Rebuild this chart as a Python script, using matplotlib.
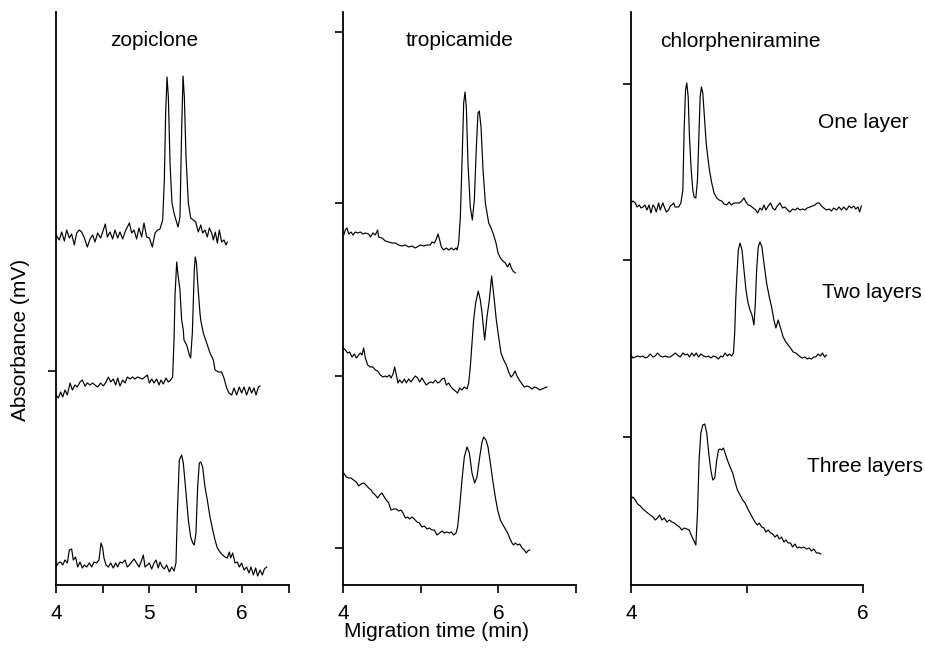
import matplotlib
matplotlib.use("Agg")
import matplotlib.pyplot as plt

plt.rcParams['font.family'] = ['Liberation Sans', 'DejaVu Sans']

# ---------------- data (migration time in min, absorbance in arbitrary mV units) ----------------
drugs = ["zopiclone", "tropicamide", "chlorpheniramine"]
layer_labels = ["One layer", "Two layers", "Three layers"]

# zopiclone
zop_one_t = [4.000, 4.036, 4.061, 4.090, 4.115, 4.143, 4.168, 4.197, 4.222, 4.251, 4.276, 4.305, 4.337, 4.366,
             4.394, 4.419, 4.448, 4.480, 4.509, 4.530, 4.552, 4.581, 4.609, 4.634, 4.663, 4.688, 4.717, 4.742,
             4.767, 4.789, 4.814, 4.839, 4.867, 4.892, 4.921, 4.946, 4.975, 5.004, 5.036, 5.065, 5.093, 5.118,
             5.147, 5.165, 5.179, 5.194, 5.208, 5.226, 5.247, 5.269, 5.290, 5.312, 5.333, 5.351, 5.366, 5.380,
             5.398, 5.423, 5.448, 5.477, 5.502, 5.530, 5.556, 5.577, 5.602, 5.627, 5.649, 5.674, 5.692, 5.713,
             5.735, 5.756, 5.781, 5.806, 5.828, 5.842]
zop_one_a = [350, 345, 353, 344, 355, 347, 351, 340, 352, 355, 353, 347, 338, 346,
             350, 343, 352, 347, 355, 361, 348, 353, 346, 355, 347, 353, 346, 353,
             358, 362, 352, 355, 346, 357, 348, 362, 348, 347, 338, 352, 355, 356,
             365, 405, 472, 508, 488, 422, 382, 372, 365, 358, 368, 455, 509, 488,
             428, 382, 367, 365, 363, 353, 360, 352, 355, 348, 357, 352, 345, 353,
             342, 355, 343, 345, 340, 343]

zop_two_t = [4.000, 4.025, 4.050, 4.072, 4.097, 4.122, 4.151, 4.176, 4.204, 4.229, 4.258, 4.283, 4.312, 4.337,
             4.366, 4.394, 4.419, 4.448, 4.480, 4.509, 4.538, 4.563, 4.588, 4.616, 4.642, 4.663, 4.688, 4.717,
             4.742, 4.767, 4.796, 4.824, 4.849, 4.875, 4.903, 4.928, 4.957, 4.982, 5.004, 5.029, 5.054, 5.082,
             5.108, 5.129, 5.154, 5.183, 5.208, 5.233, 5.254, 5.269, 5.280, 5.298, 5.312, 5.333, 5.351, 5.369,
             5.376, 5.405, 5.434, 5.448, 5.466, 5.477, 5.487, 5.497, 5.510, 5.525, 5.548, 5.556, 5.584, 5.620,
             5.656, 5.692, 5.710, 5.746, 5.781, 5.806, 5.835, 5.860, 5.889, 5.914, 5.943, 5.971, 5.996, 6.022,
             6.050, 6.079, 6.104, 6.129, 6.151, 6.176, 6.194]
zop_two_a = [190, 187, 193, 188, 195, 190, 202, 195, 200, 198, 203, 205, 199, 202,
             200, 202, 200, 198, 202, 199, 203, 208, 203, 206, 200, 207, 199, 205,
             202, 208, 206, 208, 206, 208, 207, 206, 208, 210, 202, 206, 202, 206,
             200, 205, 201, 207, 203, 205, 208, 245, 290, 323, 310, 295, 265, 255,
             245, 240, 230, 227, 252, 285, 315, 328, 322, 300, 272, 265, 252, 242,
             232, 225, 215, 213, 213, 207, 197, 192, 190, 197, 190, 198, 192, 198,
             190, 198, 192, 197, 190, 198, 199]

zop_three_t = [4.000, 4.025, 4.050, 4.072, 4.097, 4.122, 4.143, 4.168, 4.186, 4.211, 4.233, 4.258, 4.283, 4.305,
               4.330, 4.358, 4.384, 4.409, 4.437, 4.462, 4.484, 4.502, 4.516, 4.538, 4.563, 4.588, 4.616, 4.642,
               4.663, 4.688, 4.713, 4.742, 4.767, 4.789, 4.814, 4.839, 4.867, 4.892, 4.914, 4.939, 4.957, 4.982,
               5.004, 5.029, 5.054, 5.075, 5.100, 5.118, 5.143, 5.165, 5.190, 5.219, 5.244, 5.269, 5.290, 5.305,
               5.326, 5.351, 5.369, 5.398, 5.423, 5.448, 5.470, 5.487, 5.505, 5.523, 5.541, 5.556, 5.577, 5.602,
               5.627, 5.656, 5.685, 5.710, 5.735, 5.763, 5.792, 5.817, 5.842, 5.864, 5.878, 5.900, 5.925, 5.950,
               5.971, 5.996, 6.022, 6.050, 6.075, 6.097, 6.122, 6.147, 6.168, 6.194, 6.219, 6.240, 6.265]
zop_three_a = [18, 22, 23, 20, 25, 22, 35, 36, 25, 28, 18, 23, 17, 20,
               18, 22, 18, 23, 22, 25, 42, 37, 27, 20, 18, 22, 17, 22,
               18, 23, 22, 25, 18, 20, 23, 26, 22, 18, 23, 30, 18, 20,
               22, 16, 22, 25, 17, 23, 18, 16, 20, 13, 18, 14, 22, 72,
               125, 130, 122, 92, 65, 48, 42, 40, 52, 98, 122, 123, 118, 98,
               85, 68, 55, 45, 37, 33, 30, 28, 27, 33, 27, 32, 22, 23,
               18, 22, 15, 18, 12, 18, 10, 17, 9, 15, 10, 16, 18]

# tropicamide
tro_one_t = [4.009, 4.030, 4.052, 4.073, 4.103, 4.129, 4.159, 4.189, 4.223, 4.258, 4.288, 4.330, 4.352, 4.386,
             4.416, 4.446, 4.459, 4.502, 4.545, 4.588, 4.631, 4.674, 4.717, 4.760, 4.803, 4.845, 4.888, 4.931,
             4.953, 4.996, 5.039, 5.082, 5.124, 5.146, 5.176, 5.202, 5.223, 5.245, 5.266, 5.296, 5.330, 5.361,
             5.395, 5.425, 5.455, 5.468, 5.489, 5.511, 5.532, 5.554, 5.571, 5.588, 5.609, 5.639, 5.665, 5.691,
             5.717, 5.738, 5.755, 5.777, 5.803, 5.833, 5.876, 5.906, 5.940, 5.970, 5.996, 6.026, 6.060, 6.090,
             6.120, 6.146, 6.167, 6.189, 6.219]
tro_one_a = [350, 355, 357, 351, 353, 350, 353, 352, 353, 351, 352, 351, 348, 352,
             350, 355, 348, 347, 344, 343, 342, 342, 340, 339, 340, 338, 339, 337,
             338, 340, 339, 340, 340, 343, 342, 346, 351, 345, 338, 335, 337, 335,
             337, 335, 337, 335, 342, 368, 422, 482, 493, 478, 422, 378, 365, 385,
             438, 472, 474, 458, 415, 382, 362, 357, 350, 342, 332, 327, 324, 322,
             318, 322, 317, 314, 312]

tro_two_t = [4.000, 4.030, 4.060, 4.086, 4.116, 4.146, 4.172, 4.202, 4.223, 4.245, 4.266, 4.288, 4.318, 4.352,
             4.386, 4.416, 4.446, 4.481, 4.515, 4.545, 4.567, 4.597, 4.618, 4.644, 4.665, 4.687, 4.708, 4.730,
             4.760, 4.790, 4.815, 4.845, 4.876, 4.901, 4.931, 4.961, 4.987, 5.017, 5.047, 5.073, 5.103, 5.133,
             5.159, 5.189, 5.219, 5.245, 5.275, 5.305, 5.330, 5.361, 5.391, 5.416, 5.446, 5.476, 5.502, 5.532,
             5.562, 5.597, 5.618, 5.639, 5.661, 5.682, 5.708, 5.741, 5.768, 5.790, 5.824, 5.854, 5.884, 5.914,
             5.948, 5.974, 6.004, 6.034, 6.069, 6.103, 6.133, 6.163, 6.189, 6.215, 6.240, 6.270, 6.305, 6.335,
             6.369, 6.403, 6.433, 6.464, 6.498, 6.532, 6.562, 6.592, 6.627]
tro_two_a = [237, 235, 232, 233, 228, 231, 227, 230, 232, 230, 237, 227, 220, 218,
             218, 215, 214, 210, 208, 209, 208, 210, 207, 211, 218, 210, 202, 205,
             202, 206, 202, 206, 203, 206, 209, 207, 203, 207, 203, 200, 202, 203,
             202, 205, 202, 203, 206, 207, 200, 202, 198, 196, 194, 192, 197, 195,
             198, 196, 202, 218, 242, 265, 282, 294, 285, 272, 245, 268, 285, 309,
             285, 265, 248, 232, 225, 220, 213, 208, 210, 214, 209, 205, 201, 198,
             199, 198, 196, 198, 197, 195, 196, 197, 198]

tro_three_t = [4.009, 4.043, 4.073, 4.103, 4.137, 4.172, 4.202, 4.232, 4.266, 4.296, 4.330, 4.361, 4.386, 4.416,
               4.446, 4.472, 4.502, 4.532, 4.558, 4.588, 4.618, 4.652, 4.687, 4.717, 4.747, 4.773, 4.803, 4.833,
               4.858, 4.888, 4.918, 4.953, 4.983, 5.017, 5.047, 5.082, 5.112, 5.146, 5.176, 5.210, 5.245, 5.275,
               5.305, 5.339, 5.369, 5.395, 5.425, 5.455, 5.476, 5.502, 5.532, 5.562, 5.597, 5.627, 5.661, 5.695,
               5.725, 5.760, 5.790, 5.811, 5.841, 5.867, 5.897, 5.931, 5.961, 5.991, 6.026, 6.060, 6.090, 6.120,
               6.146, 6.176, 6.197, 6.219, 6.249, 6.275, 6.305, 6.335, 6.361, 6.378, 6.403]
tro_three_a = [112, 108, 107, 107, 105, 103, 99, 101, 102, 100, 97, 95, 92, 90,
               87, 90, 92, 88, 85, 82, 75, 76, 76, 74, 75, 72, 67, 68,
               66, 68, 66, 63, 62, 58, 59, 56, 57, 55, 55, 50, 52, 54,
               52, 53, 52, 53, 50, 52, 58, 78, 105, 128, 138, 132, 112, 102,
               108, 128, 143, 148, 145, 138, 122, 103, 88, 75, 65, 60, 56, 52,
               47, 42, 40, 42, 40, 41, 37, 35, 32, 34, 35]

# chlorpheniramine
chl_one_t = [4.000, 4.017, 4.037, 4.052, 4.072, 4.086, 4.103, 4.120, 4.138, 4.155, 4.172, 4.189, 4.203, 4.218,
             4.238, 4.252, 4.275, 4.287, 4.304, 4.324, 4.338, 4.352, 4.367, 4.381, 4.395, 4.410, 4.430, 4.447,
             4.458, 4.470, 4.481, 4.493, 4.504, 4.519, 4.533, 4.544, 4.559, 4.573, 4.585, 4.596, 4.607, 4.619,
             4.633, 4.648, 4.662, 4.676, 4.696, 4.716, 4.739, 4.759, 4.782, 4.802, 4.825, 4.845, 4.865, 4.888,
             4.911, 4.934, 4.954, 4.974, 4.991, 5.011, 5.032, 5.054, 5.075, 5.092, 5.112, 5.129, 5.146, 5.163,
             5.183, 5.203, 5.221, 5.241, 5.261, 5.284, 5.307, 5.327, 5.350, 5.370, 5.393, 5.415, 5.436, 5.456,
             5.479, 5.499, 5.519, 5.542, 5.564, 5.585, 5.605, 5.622, 5.642, 5.662, 5.685, 5.708, 5.728, 5.748,
             5.771, 5.794, 5.814, 5.834, 5.857, 5.880, 5.900, 5.920, 5.937, 5.957, 5.971, 5.986]
chl_one_a = [382, 384, 382, 378, 380, 377, 378, 380, 375, 380, 372, 380, 378, 373,
             382, 375, 382, 378, 373, 375, 379, 380, 382, 378, 378, 378, 382, 395,
             455, 495, 502, 488, 448, 415, 395, 388, 387, 405, 448, 488, 498, 492,
             468, 442, 428, 415, 402, 392, 387, 385, 384, 381, 380, 383, 380, 382,
             382, 382, 384, 387, 383, 380, 379, 377, 375, 372, 377, 375, 380, 375,
             379, 382, 377, 375, 379, 382, 377, 378, 375, 373, 376, 375, 377, 375,
             376, 375, 377, 378, 379, 380, 382, 382, 379, 377, 375, 376, 374, 377,
             375, 378, 375, 378, 375, 379, 377, 379, 376, 378, 373, 379]

chl_two_t = [4.000, 4.017, 4.037, 4.057, 4.080, 4.103, 4.123, 4.143, 4.166, 4.189, 4.209, 4.229, 4.252, 4.275,
             4.295, 4.315, 4.338, 4.361, 4.381, 4.401, 4.424, 4.447, 4.467, 4.487, 4.504, 4.524, 4.544, 4.562,
             4.582, 4.602, 4.625, 4.648, 4.668, 4.688, 4.711, 4.734, 4.754, 4.774, 4.791, 4.811, 4.831, 4.848,
             4.868, 4.883, 4.894, 4.903, 4.911, 4.925, 4.940, 4.957, 4.974, 4.991, 5.009, 5.026, 5.043, 5.060,
             5.072, 5.083, 5.097, 5.112, 5.129, 5.146, 5.169, 5.192, 5.212, 5.232, 5.249, 5.269, 5.289, 5.312,
             5.335, 5.355, 5.375, 5.398, 5.421, 5.441, 5.461, 5.479, 5.499, 5.519, 5.536, 5.556, 5.576, 5.593,
             5.613, 5.633, 5.650, 5.670, 5.685]
chl_two_a = [230, 227, 228, 229, 228, 229, 227, 228, 231, 228, 229, 232, 229, 228,
             229, 228, 228, 230, 232, 230, 228, 232, 230, 231, 228, 232, 229, 232,
             228, 231, 229, 228, 229, 227, 229, 228, 226, 229, 228, 232, 229, 231,
             229, 232, 252, 285, 305, 335, 342, 335, 315, 295, 282, 275, 270, 260,
             282, 315, 338, 343, 338, 322, 302, 288, 278, 265, 257, 265, 257, 248,
             243, 240, 237, 233, 232, 230, 228, 227, 228, 226, 227, 226, 228, 228,
             231, 229, 232, 228, 230]

chl_three_t = [4.000, 4.017, 4.037, 4.057, 4.080, 4.103, 4.123, 4.143, 4.166, 4.189, 4.209, 4.229, 4.246, 4.266,
               4.287, 4.309, 4.332, 4.352, 4.372, 4.395, 4.418, 4.438, 4.458, 4.481, 4.501, 4.519, 4.539, 4.559,
               4.573, 4.587, 4.602, 4.619, 4.636, 4.653, 4.670, 4.688, 4.705, 4.722, 4.739, 4.754, 4.768, 4.782,
               4.797, 4.811, 4.831, 4.854, 4.877, 4.897, 4.917, 4.940, 4.963, 4.983, 5.003, 5.026, 5.049, 5.069,
               5.089, 5.106, 5.126, 5.146, 5.163, 5.183, 5.203, 5.221, 5.241, 5.261, 5.278, 5.298, 5.318, 5.335,
               5.355, 5.375, 5.393, 5.413, 5.433, 5.450, 5.470, 5.490, 5.513, 5.536, 5.556, 5.576, 5.599, 5.622,
               5.636]
chl_three_a = [86, 88, 85, 81, 79, 76, 74, 72, 70, 68, 65, 67, 70, 65,
               67, 63, 65, 63, 62, 60, 58, 55, 57, 56, 55, 50, 45, 40,
               72, 125, 152, 160, 161, 152, 132, 115, 105, 107, 125, 135, 136, 135,
               137, 132, 125, 118, 112, 103, 95, 90, 85, 82, 77, 72, 67, 63,
               60, 62, 58, 57, 53, 55, 52, 51, 48, 50, 46, 48, 43, 45,
               42, 42, 38, 41, 37, 38, 37, 38, 36, 37, 34, 36, 32, 32,
               31]

traces = [
    [(zop_one_t, zop_one_a), (zop_two_t, zop_two_a), (zop_three_t, zop_three_a)],
    [(tro_one_t, tro_one_a), (tro_two_t, tro_two_a), (tro_three_t, tro_three_a)],
    [(chl_one_t, chl_one_a), (chl_two_t, chl_two_a), (chl_three_t, chl_three_a)],
]

x_limits = [(4, 6.5), (4, 7), (4, 6)]
x_ticks = [[4, 4.5, 5, 5.5, 6, 6.5], [4, 5, 6, 7], [4, 5, 6]]
x_ticklabels = [["4", "", "5", "", "6", ""], ["4", "", "6", ""], ["4", "", "6"]]
y_ticks = [[214], [553, 382, 209, 37], [501, 325, 148]]
y_limit = (0, 573)

# ---------------- figure ----------------
FS = 15
fig = plt.figure(figsize=(9.25, 6.54), dpi=100)
W, H = 925.0, 654.0
lefts = [56, 343, 631]
rights = [288.5, 576, 863]
top_px, bot_px = 12, 585

axes = []
for i in range(3):
    ax = fig.add_axes([lefts[i] / W, 1 - bot_px / H, (rights[i] - lefts[i]) / W, (bot_px - top_px) / H])
    axes.append(ax)
    for t, a in traces[i]:
        ax.plot(t, a, color="black", lw=0.85)
    ax.set_xlim(*x_limits[i])
    ax.set_ylim(*y_limit)
    ax.set_xticks(x_ticks[i])
    ax.set_xticklabels(x_ticklabels[i])
    ax.set_yticks(y_ticks[i])
    ax.set_yticklabels([])
    for s in ["top", "right"]:
        ax.spines[s].set_visible(False)
    for s in ["left", "bottom"]:
        ax.spines[s].set_linewidth(1.3)
    ax.tick_params(direction="out", length=6, width=1.2, labelsize=FS, pad=8)
    ax.patch.set_alpha(0)

title_x = [154, 460, 740]
title_base = [46, 46, 47]
for name, tx, ty in zip(drugs, title_x, title_base):
    fig.text(tx / W, 1 - ty / H, name, ha="center", va="baseline", fontsize=FS)

label_x = [818, 822, 807]
label_base = [128, 298, 472]
for lab, lx, ly in zip(layer_labels, label_x, label_base):
    fig.text(lx / W, 1 - ly / H, lab, ha="left", va="baseline", fontsize=FS)

fig.text(21 / W, 1 - 340 / H, "Absorbance (mV)", rotation=90, ha="center", va="center", fontsize=FS)
fig.text(437 / W, 1 - 637 / H, "Migration time (min)", ha="center", va="baseline", fontsize=FS)

fig.savefig("out.png", dpi=100)
